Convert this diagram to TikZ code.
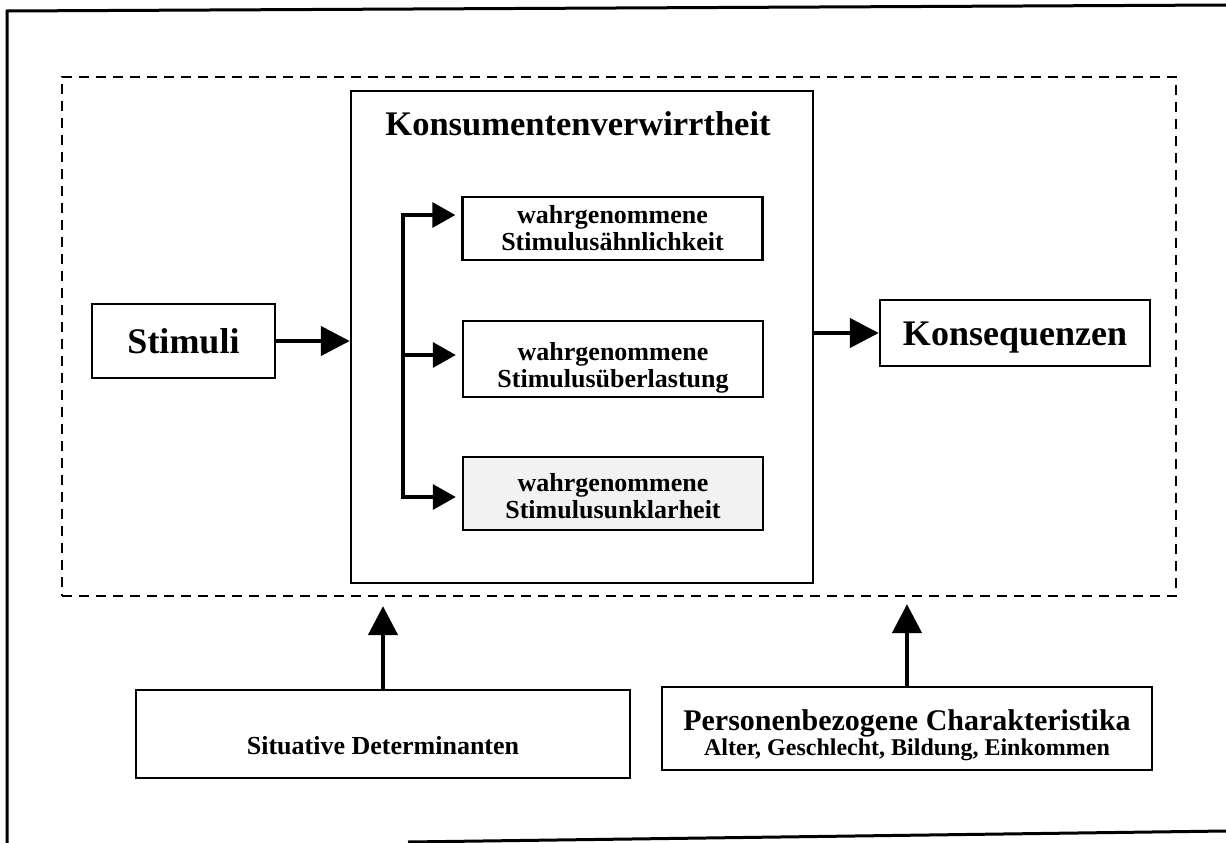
\documentclass[tikz,border=0pt]{standalone}
\usepackage{fontspec}
\setmainfont{Liberation Serif}
\usetikzlibrary{arrows.meta,calc}
\begin{document}
\begin{tikzpicture}[x=1pt,y=-1pt,
  box/.style={draw=black,line width=2.4pt,rectangle,inner sep=0pt,align=center,fill=white},
  inbox/.style={box,minimum width=300pt,font=\bfseries\fontsize{26}{27}\selectfont},
  bigarrow/.style={line width=4.5pt,-{Triangle[length=29pt,width=29pt]}},
  smallarrow/.style={line width=3.5pt,-{Triangle[length=23pt,width=25pt]}},
  envbox/.style={draw=black,line width=2.2pt,dash pattern=on 10pt off 7pt,rectangle,inner sep=0pt},
  frameline/.style={line width=3pt}
]
\useasboundingbox (0,0) rectangle (1226,843);
% page frame
\draw[frameline] (1226,5) -- (7,11) -- (7,843);
\draw[frameline] (408,842) -- (1226,831);

% dashed environment
\node[envbox, minimum width=1114pt, minimum height=519pt] (env) at (619,336.5) {};

% main box
\node[box, minimum width=462pt, minimum height=492pt] (main) at (582,337) {};
\node[font=\bfseries\fontsize{34.5}{36}\selectfont, inner sep=0pt] (title) at (578,124) {Konsumentenverwirrtheit};

% inner boxes
\node[inbox, minimum height=63pt] (b1) at (612.5,228.5) {wahrgenommene\\Stimulusähnlichkeit};
\node[inbox, minimum height=76pt] (b2) at (613,359) {\rule{0pt}{36pt}wahrgenommene\\Stimulusüberlastung};
\node[inbox, minimum height=73pt, fill=gray!10] (b3) at (613,493.5) {\rule{0pt}{24pt}wahrgenommene\\Stimulusunklarheit};

% branch
\coordinate (br1) at (403,215);
\coordinate (br2) at (403,355);
\coordinate (br3) at (403,497);
\draw[line width=3.5pt] ($(br1)+(0,-1.75)$) -- ($(br3)+(0,1.75)$);
\draw[smallarrow, shorten >=6pt] (br1) -- (b1.west |- br1);
\draw[smallarrow, shorten >=6pt] (br2) -- (b2.west |- br2);
\draw[smallarrow, shorten >=6pt] (br3) -- (b3.west |- br3);

% Stimuli and Konsequenzen
\node[box, minimum width=183pt, minimum height=74pt, font=\bfseries\fontsize{36}{38}\selectfont] (stim) at (183.5,341) {Stimuli};
\node[box, minimum width=270pt, minimum height=66pt, font=\bfseries\fontsize{36}{38}\selectfont, text height=24pt, text depth=0pt] (kons) at (1015,333) {Konsequenzen};
\draw[bigarrow] (stim.east) -- (main.west |- stim.east);
\draw[bigarrow] (main.east |- kons.west) -- (kons.west);

% bottom boxes
\node[box, minimum width=494pt, minimum height=88pt, font=\bfseries\fontsize{26}{28}\selectfont, text height=41pt, text depth=0pt] (sit) at (383,734) {Situative Determinanten};
\node[box, minimum width=490pt, minimum height=83pt, font=\bfseries\fontsize{24}{25}\selectfont] (pers) at (907,728.5) {{\fontsize{30}{30}\selectfont\rule{0pt}{34pt}Personenbezogene Charakteristika}\\Alter, Geschlecht, Bildung, Einkommen};

\draw[bigarrow, shorten >=9pt] (sit.north) -- (sit.north |- env.south);
\draw[bigarrow, shorten >=7pt] (pers.north) -- (pers.north |- env.south);
\end{tikzpicture}
\end{document}
